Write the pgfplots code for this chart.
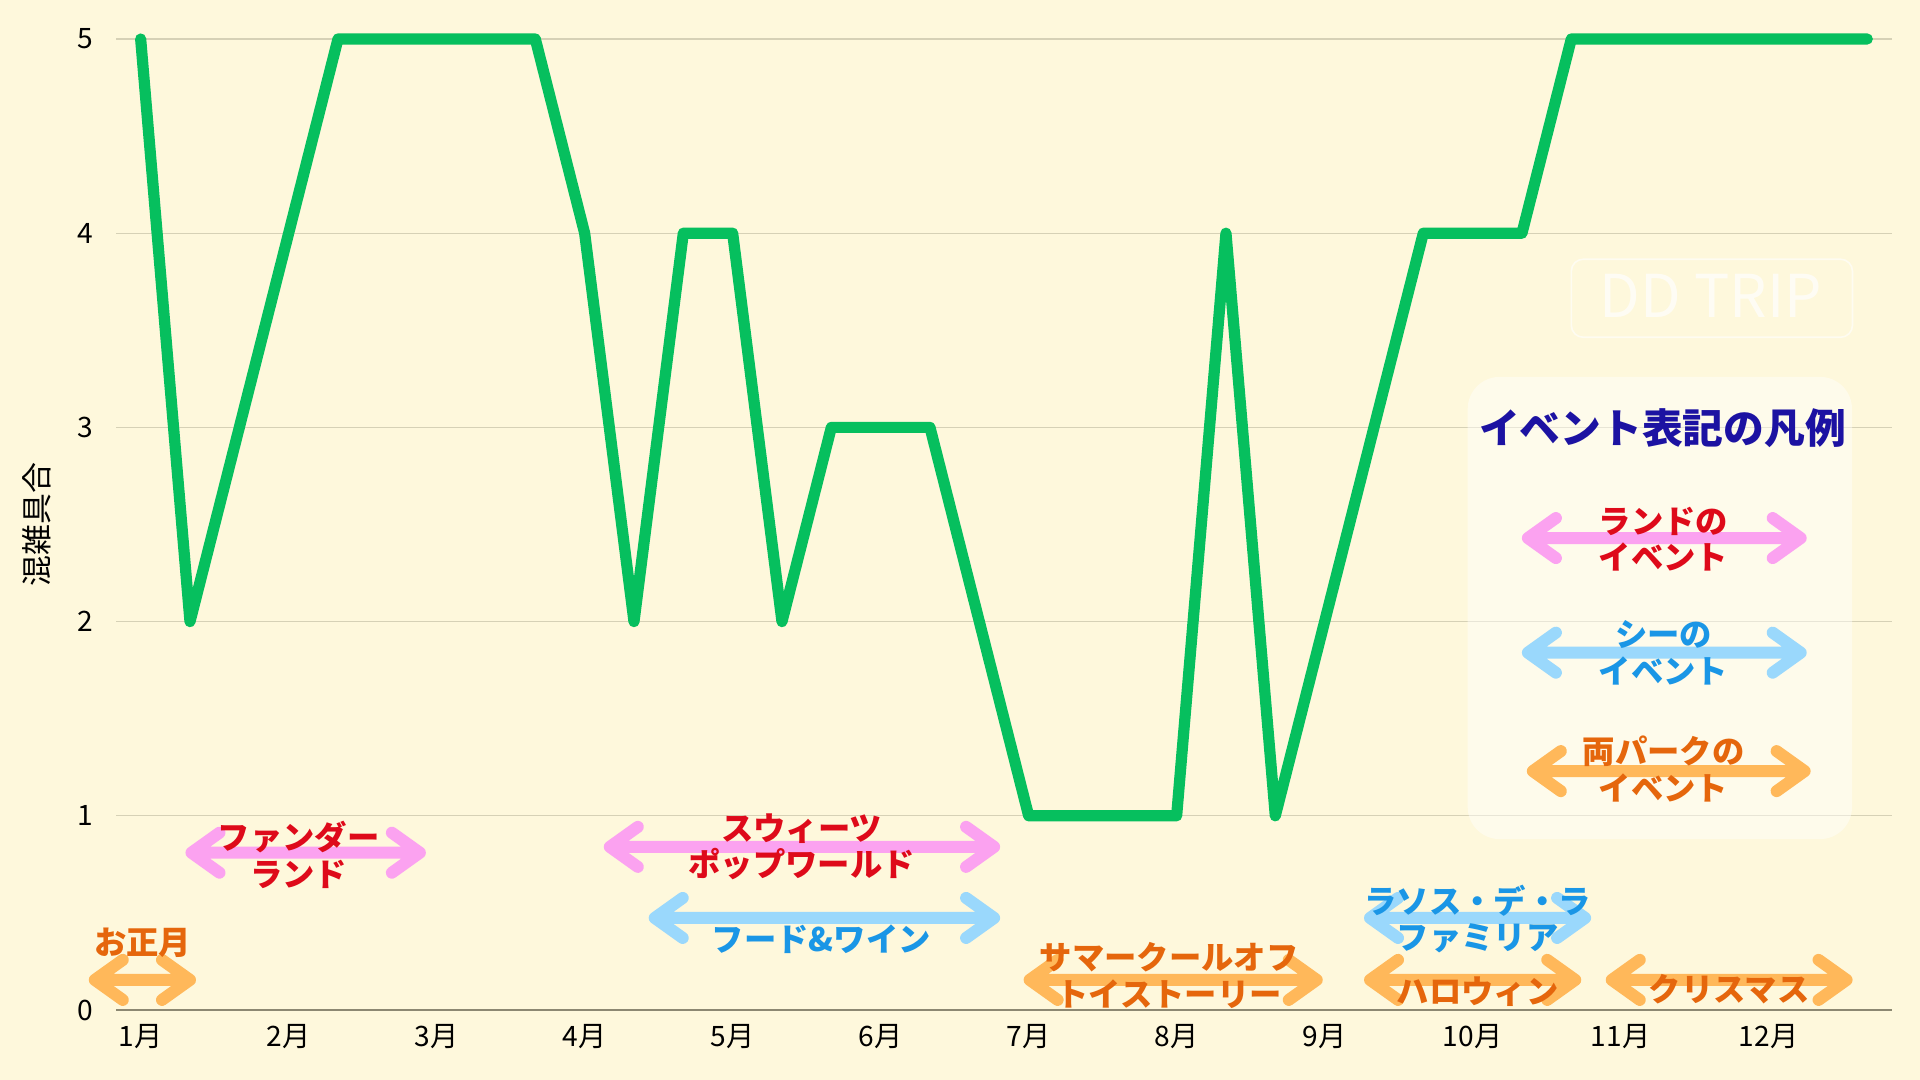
\documentclass[border=0pt]{standalone}
\usepackage{pgfplots}
\pgfplotsset{compat=1.18}
\usepackage{fontspec}
\setmainfont{Noto Sans CJK JP}
\definecolor{bg}{HTML}{FEF8DC}
\definecolor{lgreen}{HTML}{06BF5E}
\definecolor{gridc}{HTML}{D6D1B6}
\definecolor{axisc}{HTML}{8C8872}
\definecolor{pinkA}{HTML}{FBA2F0}
\definecolor{redT}{HTML}{DE0A1A}
\definecolor{blueA}{HTML}{9AD8FC}
\definecolor{blueT}{HTML}{1A96E6}
\definecolor{orangeA}{HTML}{FFB85A}
\definecolor{orangeT}{HTML}{E5660C}
\definecolor{navyT}{HTML}{1C12A2}
\newcommand{\evarrow}[4]{%
  \draw[#1, line width=3mm, line cap=round, line join=round]
    ([shift={(7mm,5mm)}]axis cs:#2,#4) -- (axis cs:#2,#4) -- ([shift={(7mm,-5mm)}]axis cs:#2,#4)
    (axis cs:#2,#4) -- (axis cs:#3,#4)
    ([shift={(-7mm,5mm)}]axis cs:#3,#4) -- (axis cs:#3,#4) -- ([shift={(-7mm,-5mm)}]axis cs:#3,#4);}
\newcommand{\evtext}[4]{% color, x, y, text
  \node[text=#1, font=\bfseries\fontsize{23pt}{26pt}\selectfont, align=center, inner sep=0pt] at (axis cs:#2,#3) {#4};}
\begin{document}
\begin{tikzpicture}
\path[use as bounding box, fill=bg] (0,0) rectangle (480mm,270mm);
\begin{axis}[
  at={(29mm,17.5mm)}, anchor=south west,
  scale only axis, width=444mm, height=242.75mm,
  xmin=-0.5, xmax=35.5, ymin=0, ymax=5,
  clip=false,
  axis line style={draw=none},
  major tick length=0pt,
  xtick={0,3,6,9,12,15,18,21,24,27,30,33},
  xticklabels={1月,2月,3月,4月,5月,6月,7月,8月,9月,10月,11月,12月},
  ytick={0,1,2,3,4,5},
  ymajorgrids, grid style={gridc, line width=0.3mm},
  /pgf/number format/assume math mode=true,
  ticklabel style={font=\fontsize{20pt}{22pt}\selectfont, inner sep=0pt},
  xticklabel style={yshift=-3.5mm},
  yticklabel style={xshift=-5.75mm},
  ylabel={混雑具合},
  ylabel style={font=\fontsize{22pt}{24pt}\selectfont, at={(rel axis cs:0,0.5)}, anchor=center, yshift=19.75mm, inner sep=0pt},
]
% legend box and watermark
\draw[white, opacity=0.55, fill=white, fill opacity=0.45, rounded corners=8mm, draw=none]
  (axis cs:26.9,0.88) rectangle (axis cs:34.69,3.26);
\draw[white, opacity=0.6, line width=0.4mm, rounded corners=3mm]
  (axis cs:29.0,3.464) rectangle (axis cs:34.7,3.866);
\node[text=white, opacity=0.7, font=\fontsize{42pt}{44pt}\selectfont] at (axis cs:31.83,3.675) {DD TRIP};
\draw[axisc, line width=0.4mm] (axis cs:-0.5,0) -- (axis cs:35.5,0);
\addplot[lgreen, line width=2.8mm, line join=round, line cap=round] coordinates {
(0,5) (1,2) (2,3) (3,4) (4,5) (5,5) (6,5) (7,5) (8,5) (9,4)
(10,2) (11,4) (12,4) (13,2) (14,3) (15,3) (16,3) (17,2) (18,1) (19,1)
(20,1) (21,1) (22,4) (23,1) (24,2) (25,3) (26,4) (27,4) (28,4) (29,5)
(30,5) (31,5) (32,5) (33,5) (34,5) (35,5)
};
% event arrows
\evarrow{pinkA}{1.03}{5.66}{0.81}
\evtext{redT}{3.2}{0.80}{ファンダー\\ランド}
\evarrow{orangeA}{-0.93}{1.0}{0.155}
\evtext{orangeT}{0.04}{0.345}{お正月}
\evarrow{pinkA}{9.51}{17.30}{0.84}
\evtext{redT}{13.4}{0.84}{スウィーツ\\ポップワールド}
\evarrow{blueA}{10.42}{17.30}{0.474}
\evtext{blueT}{13.8}{0.366}{フード\&ワイン}
\evarrow{orangeA}{18.02}{23.84}{0.155}
\evtext{orangeT}{20.85}{0.178}{サマークールオフ\\トイストーリー}
\evarrow{blueA}{24.92}{29.28}{0.474}
\evtext{blueT}{27.1}{0.468}{ラソス・デ・ラ\\ファミリア}
\evarrow{orangeA}{24.92}{29.08}{0.155}
\evtext{orangeT}{27.1}{0.093}{ハロウィン}
\evarrow{orangeA}{29.82}{34.58}{0.155}
\evtext{orangeT}{32.2}{0.108}{クリスマス}
% legend
\node[text=navyT, font=\bfseries\fontsize{29pt}{31pt}\selectfont, inner sep=0pt] at (axis cs:30.85,2.995) {イベント表記の凡例};
\evarrow{pinkA}{28.12}{33.65}{2.43}
\evtext{redT}{30.87}{2.425}{ランドの\\イベント}
\evarrow{blueA}{28.12}{33.65}{1.84}
\evtext{blueT}{30.87}{1.84}{シーの\\イベント}
\evarrow{orangeA}{28.22}{33.73}{1.23}
\evtext{orangeT}{30.87}{1.24}{両パークの\\イベント}
\end{axis}
\end{tikzpicture}
\end{document}
